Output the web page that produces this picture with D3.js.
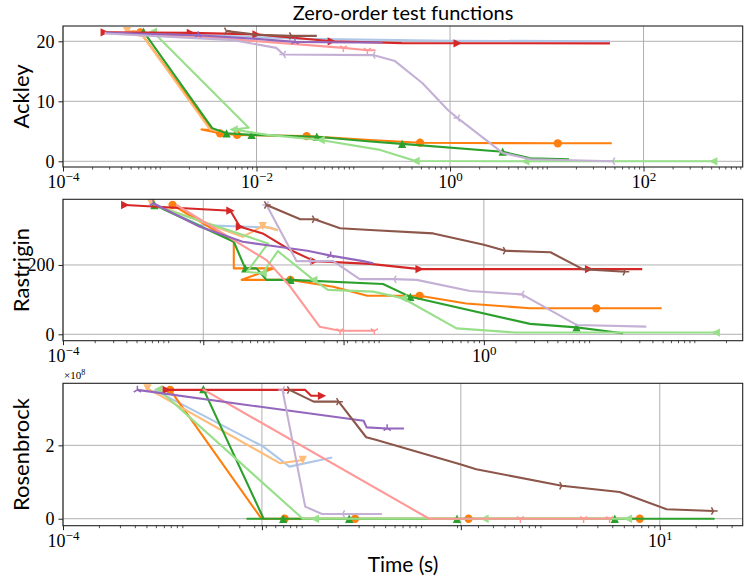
<!DOCTYPE html>
<html>
<head>
<meta charset="utf-8">
<script src="https://cdn.jsdelivr.net/npm/d3@7"></script>
<style>
  body { margin: 0; background: #fff; }
  .sans { font-family: Lato, "Open Sans", sans-serif; fill: #000; }
  .tick text { font-family: "Liberation Serif", "DejaVu Serif", serif; font-size: 18px; fill: #000; }
</style>
</head>
<body>
<svg id="chart" width="747" height="581"></svg>
<script>
// Methods in plotting order, tab20 colours, matplotlib-like markers.
const methods = ['lightblue', 'orange', 'lightorange', 'green', 'lightgreen', 'red', 'lightred', 'purple', 'lightpurple', 'brown'];
const methodColors = ['#aec7e8', '#ff7f0e', '#ffbb78', '#2ca02c', '#98df8a', '#d62728', '#ff9896', '#9467bd', '#c5b0d5', '#8c564b'];
const methodMarkers = [null, 'o', 'v', '^', '<', '>', '1', '2', '3', '4'];

// [time (s), objective value]
const ackley = {
  lightblue: [[2.5e-4, 21.5], [3.2e-3, 21.0], [3.2e-2, 20.4], [1.0, 20.1], [45, 20.0]],
  orange: [[5.1e-4, 21.7], [6.3e-4, 21.5], [3.5e-3, 5.2], [2.7e-3, 5.3], [4.2e-3, 4.67], [6.3e-3, 4.4], [3.3e-2, 4.2], [0.15, 3.55], [0.49, 3.1], [13, 3.0], [47, 3.0]],
  lightorange: [[4.6e-4, 21.7], [6.2e-4, 21.6], [3.3e-3, 5.3], [5.0e-3, 4.8]],
  green: [[6.8e-4, 21.6], [3.5e-3, 5.5], [4.9e-3, 4.67], [8.9e-3, 4.4], [4.2e-2, 4.1], [0.15, 3.3], [0.32, 2.9], [3.5, 1.6], [6.8, 0.5], [17, 0.33]],
  lightgreen: [[8.5e-4, 21.6], [8.3e-3, 5.6], [5.8e-3, 5.3], [1.3e-2, 4.4], [4.6e-2, 3.55], [0.19, 1.9], [0.44, 0.05], [6.0, 0], [525, 0]],
  red: [[2.7e-4, 21.5], [2.1e-3, 21.4], [1.0e-2, 21.15], [6.0e-2, 20.0], [0.32, 19.7], [1.2, 19.67], [45, 19.65]],
  lightred: [[2.7e-4, 21.4], [3.2e-3, 20.7], [1.0e-2, 20.0], [3.2e-2, 19.4], [7.9e-2, 18.9], [0.14, 18.5], [0.17, 18.5]],
  purple: [[2.8e-4, 21.4], [2.5e-3, 21.0], [1.0e-2, 20.4], [2.5e-2, 19.9], [0.1, 19.8], [0.2, 19.8]],
  lightpurple: [[2.7e-4, 21.3], [5.8e-3, 20.2], [1.6e-2, 18.9], [1.9e-2, 17.8], [0.16, 17.7], [0.27, 16.7], [0.52, 13.0], [0.95, 8.55], [1.2, 7.2], [3.5, 1.4], [6.8, 0.35], [48, 0]],
  brown: [[4.9e-3, 21.7], [1.0e-2, 21.1], [2.3e-2, 20.9], [4.2e-2, 20.9]]
};
const ackleyMarks = {
  orange: [1, 4, 5, 6, 8, 9], lightorange: [0], green: [0, 2, 3, 4, 6, 7], lightgreen: [0, 2, 4, 6, 7, 8],
  red: [0, 1, 2, 3, 5], lightred: [4, 5], purple: [1, 3], lightpurple: [3, 4, 8, 11], brown: [0, 2]
};

const rastrigin = {
  lightblue: [[7.2e-4, 376], [2.0e-3, 315], [9.3e-3, 308], [1.1e-2, 300]],
  orange: [[1.1e-3, 373], [4.2e-3, 267], [4.2e-3, 190], [1.0e-2, 190], [5.0e-3, 157], [1.45e-2, 157], [3.7e-2, 137], [7.8e-2, 111], [0.245, 111], [0.68, 89], [2.75, 75], [11.7, 75], [49, 75]],
  lightorange: [[6.9e-4, 378], [5.1e-3, 281], [7.9e-3, 312], [1.1e-2, 300]],
  green: [[7.4e-4, 373], [4.2e-3, 267], [5.4e-3, 190], [6.9e-3, 190], [8.6e-3, 157], [1.45e-2, 157], [0.11, 145], [0.2, 108], [2.75, 30], [7.6, 20], [21, 3]],
  lightgreen: [[7.2e-4, 373], [8.9e-3, 262], [5.6e-3, 180], [7.9e-3, 176], [1.1e-2, 240], [2.4e-2, 157], [3.3e-2, 128], [8.9e-2, 123], [0.17, 104], [0.55, 17], [2.0, 5], [160, 5]],
  red: [[3.9e-4, 373], [3.9e-3, 356.5], [4.8e-3, 310], [7.9e-3, 291], [1.45e-2, 243], [2.45e-2, 211], [8.3e-2, 203], [0.245, 188], [10, 188], [32, 188]],
  lightred: [[1.2e-3, 373], [8.6e-3, 214], [1.45e-2, 137], [2.75e-2, 22], [4.3e-2, 10], [9.1e-2, 10]],
  purple: [[7.2e-4, 378], [2.0e-3, 310], [5.1e-3, 267], [1.07e-2, 253], [2.1e-2, 241], [3.5e-2, 227], [7.1e-2, 211], [8.9e-2, 205]],
  lightpurple: [[8.6e-3, 373], [1.66e-2, 211], [2.2e-2, 211], [3.7e-2, 211], [6.6e-2, 159], [0.14, 159], [0.23, 157], [0.74, 125], [2.3, 115], [7.6, 27], [35, 22]],
  brown: [[8.6e-3, 373], [1.8e-2, 332], [2.45e-2, 332], [4.3e-2, 306], [8.3e-2, 301], [0.33, 291], [1.0, 258], [1.6, 241], [4.3, 236.5], [8.7, 188], [22, 180.5]]
};
const rastriginMarks = {
  orange: [0, 5, 8, 11], lightorange: [0, 2], green: [0, 2, 5, 7, 9], lightgreen: [3, 5, 8, 11],
  red: [0, 1, 2, 5, 7, 8], lightred: [4, 5], purple: [0, 5], lightpurple: [0, 2, 5, 8], brown: [0, 2, 7, 10]
};

const rosenbrock = {
  lightblue: [[5.8e-4, 3.51e8], [4.8e-3, 1.96e8], [7.9e-3, 1.42e8], [1.8e-2, 1.67e8]],
  orange: [[7.9e-4, 3.51e8], [4.6e-3, 0], [7.2e-3, 0], [2.8e-2, 0], [0.25, 0], [6.8, 0]],
  lightorange: [[5.1e-4, 3.55e8], [6.6e-3, 1.51e8], [1.02e-2, 1.60e8]],
  green: [[1.5e-3, 3.53e8], [4.8e-3, 0], [3.5e-3, 0], [7.0e-3, 0], [2.5e-2, 0], [0.2, 0], [4.2, 0], [28.8, 0]],
  lightgreen: [[6.3e-4, 3.53e8], [1.02e-2, 0], [1.29e-2, 0], [0.34, 0], [5.4, 0]],
  red: [[7.4e-4, 3.51e8], [1.07e-2, 3.51e8], [1.2e-2, 3.35e8], [1.48e-2, 3.35e8]],
  lightred: [[1.48e-3, 3.53e8], [0.117, 0], [0.68, 0], [2.3, 0], [3.8, 0]],
  purple: [[4.2e-4, 3.51e8], [4.5e-3, 3.05e8], [3.3e-2, 2.67e8], [3.5e-2, 2.49e8], [5.2e-2, 2.46e8], [7.2e-2, 2.46e8]],
  lightpurple: [[6.9e-3, 3.51e8], [1.07e-2, 0.33e8], [1.48e-2, 0.13e8], [2.2e-2, 0.13e8], [4.7e-2, 0.13e8]],
  brown: [[7.9e-3, 3.51e8], [1.26e-2, 3.19e8], [2.04e-2, 3.19e8], [3.47e-2, 2.22e8], [4.17e-2, 2.15e8], [0.216, 1.48e8], [0.29, 1.35e8], [1.51, 0.90e8], [4.62, 0.73e8], [11.4, 0.26e8], [28.2, 0.21e8]]
};
const rosenbrockMarks = {
  orange: [0, 2, 3, 4, 5], lightorange: [0, 2], green: [0, 3, 4, 5, 6], lightgreen: [0, 2, 3, 4],
  red: [0, 3], lightred: [2, 3, 4], purple: [0, 4], lightpurple: [0, 3], brown: [0, 2, 7, 10]
};

// tick exponents (major x ticks are evenly spaced in log space, labelled on whole decades)
const ackleyXExp = [-4, -2, 0, 2];
const rastriginXExp = [-4, -8 / 3, -4 / 3, 0];
const rosenbrockXExp = [-4, -7 / 3, -2 / 3, 1];
const ackleyYTicks = [0, 10, 20];
const rastriginYTicks = [0, 200];
const rosenbrockYTicks = [0, 2e8];

const panels = [
  { name: 'Ackley', data: ackley, marks: ackleyMarks, xExp: ackleyXExp, yTicks: ackleyYTicks,
    xMax: Math.pow(10, 3.025), yDomain: [-0.95, 22.55], top: 26, bottom: 167, yScale: 1 },
  { name: 'Rastrigin', data: rastrigin, marks: rastriginMarks, xExp: rastriginXExp, yTicks: rastriginYTicks,
    xMax: Math.pow(10, 2.46), yDomain: [-18.5, 389.4], top: 199.3, bottom: 340.7, yScale: 1 },
  { name: 'Rosenbrock', data: rosenbrock, marks: rosenbrockMarks, xExp: rosenbrockXExp, yTicks: rosenbrockYTicks,
    xMax: Math.pow(10, 1.695), yDomain: [-0.19e8, 3.69e8], top: 383.3, bottom: 525.7, yScale: 1e8 }
];

const svg = d3.select('#chart');
const left = 63, right = 742.7;
const MS = 4.15; // half marker size, px

function markerPath(type) {
  const s = MS, c = 0.866 * s, h = 0.5 * s;
  switch (type) {
    case '^': return `M0,${-s}L${-s},${s}L${s},${s}Z`;
    case 'v': return `M0,${s}L${-s},${-s}L${s},${-s}Z`;
    case '<': return `M${-s},0L${s},${-s}L${s},${s}Z`;
    case '>': return `M${s},0L${-s},${-s}L${-s},${s}Z`;
    case '1': return `M0,0L0,${s}M0,0L${c},${-h}M0,0L${-c},${-h}`;
    case '2': return `M0,0L0,${-s}M0,0L${c},${h}M0,0L${-c},${h}`;
    case '3': return `M0,0L${-s},0M0,0L${h},${c}M0,0L${h},${-c}`;
    case '4': return `M0,0L${s},0M0,0L${-h},${c}M0,0L${-h},${-c}`;
  }
  return null;
}

function sciText(sel, exp) {
  sel.text(null);
  sel.append('tspan').text('10');
  sel.append('tspan').attr('dy', -7).attr('font-size', 13)
    .text(exp < 0 ? '\u2212' + (-exp) : String(exp));
}

panels.forEach((p, pi) => {
  const x = d3.scaleLog().domain([1e-4, p.xMax]).range([left, right]);
  const y = d3.scaleLinear().domain(p.yDomain).range([p.bottom, p.top]);
  const majors = p.xExp.map((e) => Math.pow(10, e));

  const minors = [];
  for (let n = -5; n <= 4; n++) {
    for (let k = 1; k <= 9; k++) {
      const v = k * Math.pow(10, n);
      if (v < 1e-4 * 0.999 || v > p.xMax) continue;
      if (majors.some((m) => Math.abs(Math.log10(m) - Math.log10(v)) < 0.01)) continue;
      minors.push(v);
    }
  }

  svg.append('clipPath').attr('id', 'clip' + pi)
    .append('rect')
    .attr('x', left).attr('y', p.top)
    .attr('width', right - left).attr('height', p.bottom - p.top);

  const g = svg.append('g');

  // grid
  g.append('g').selectAll('line').data(majors).join('line')
    .attr('x1', (d) => x(d)).attr('x2', (d) => x(d))
    .attr('y1', p.top).attr('y2', p.bottom)
    .attr('stroke', '#b0b0b0').attr('stroke-width', 1);
  g.append('g').selectAll('line').data(p.yTicks).join('line')
    .attr('x1', left).attr('x2', right)
    .attr('y1', (d) => y(d)).attr('y2', (d) => y(d))
    .attr('stroke', '#b0b0b0').attr('stroke-width', 1);

  // series
  const plot = g.append('g').attr('clip-path', `url(#clip${pi})`);
  const line = d3.line().x((d) => x(d[0])).y((d) => y(d[1]));
  methods.forEach((m, i) => {
    const pts = p.data[m];
    if (!pts) return;
    const color = methodColors[i];
    plot.append('path')
      .attr('d', line(pts))
      .attr('fill', 'none')
      .attr('stroke', color)
      .attr('stroke-width', 2.1)
      .attr('stroke-linejoin', 'round');
    const type = methodMarkers[i];
    const idx = p.marks[m] || [];
    if (!type) return;
    const sel = plot.append('g').selectAll('.mk').data(idx.map((j) => pts[j])).join(type === 'o' ? 'circle' : 'path')
      .attr('transform', (d) => `translate(${x(d[0])},${y(d[1])})`);
    if (type === 'o') {
      sel.attr('r', MS).attr('fill', color);
    } else if ('^v<>'.includes(type)) {
      sel.attr('d', markerPath(type)).attr('fill', color);
    } else {
      sel.attr('d', markerPath(type)).attr('fill', 'none')
        .attr('stroke', color).attr('stroke-width', 1.5);
    }
  });

  // spines
  g.append('rect')
    .attr('x', left).attr('y', p.top)
    .attr('width', right - left).attr('height', p.bottom - p.top)
    .attr('fill', 'none').attr('stroke', '#222').attr('stroke-width', 1.1);

  // x axis: minor then major ticks
  g.append('g')
    .attr('transform', `translate(0,${p.bottom})`)
    .call(d3.axisBottom(x).tickValues(minors).tickSize(2.5).tickFormat(''))
    .call((a) => a.select('.domain').remove())
    .call((a) => a.selectAll('.tick line').attr('stroke', '#222').attr('stroke-width', 0.8));

  const xa = g.append('g')
    .attr('transform', `translate(0,${p.bottom})`)
    .call(d3.axisBottom(x).tickValues(majors).tickSize(4.5).tickFormat(() => ''))
    .call((a) => a.select('.domain').remove())
    .call((a) => a.selectAll('.tick line').attr('stroke', '#222').attr('stroke-width', 1));
  xa.selectAll('.tick text')
    .attr('y', 21).attr('dy', 0)
    .each(function (d) {
      const e = Math.round(Math.log10(d));
      if (Math.abs(Math.log10(d) - e) < 1e-6) sciText(d3.select(this), e);
    });

  // y axis
  g.append('g')
    .attr('transform', `translate(${left},0)`)
    .call(d3.axisLeft(y).tickValues(p.yTicks).tickSize(4.5).tickPadding(4)
      .tickFormat((d) => String(d / p.yScale)))
    .call((a) => a.select('.domain').remove())
    .call((a) => a.selectAll('.tick line').attr('stroke', '#222').attr('stroke-width', 1));

  // y label
  svg.append('text').attr('class', 'sans')
    .attr('transform', `translate(29,${(p.top + p.bottom) / 2}) rotate(-90)`)
    .attr('text-anchor', 'middle')
    .attr('font-size', 22)
    .text(p.name);

  if (p.yScale !== 1) {
    const off = svg.append('text')
      .attr('x', left + 1).attr('y', p.top - 4)
      .attr('font-family', '"Liberation Serif", serif')
      .attr('font-size', 11);
    off.append('tspan').text('\u00d710');
    off.append('tspan').attr('dy', -4).attr('font-size', 8).text(String(Math.round(Math.log10(p.yScale))));
  }
});

svg.append('text').attr('class', 'sans')
  .attr('x', 403).attr('y', 20)
  .attr('text-anchor', 'middle')
  .attr('font-size', 20)
  .text('Zero-order test functions');

svg.append('text').attr('class', 'sans')
  .attr('x', 403).attr('y', 572)
  .attr('text-anchor', 'middle')
  .attr('font-size', 21)
  .text('Time (s)');
</script>
</body>
</html>
